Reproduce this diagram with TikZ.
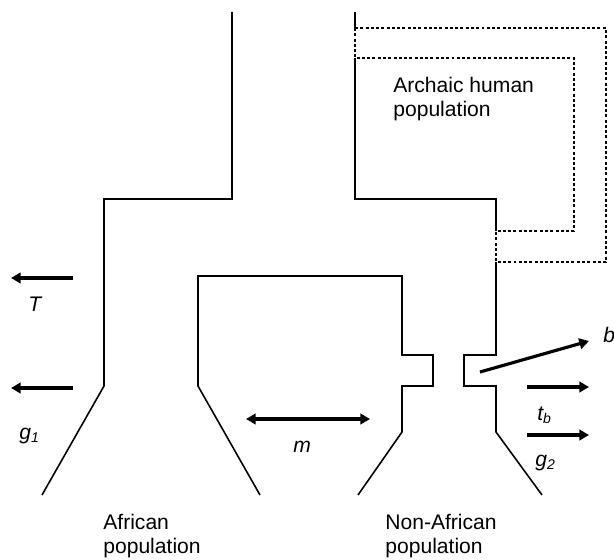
\documentclass[tikz,border=0pt]{standalone}
\usepackage{fontspec}
\setmainfont{Liberation Sans}
\usepackage{tikz}
\usetikzlibrary{arrows.meta}
\tikzset{
	popline/.style ={line width=0.9pt, line join=miter},
	archline/.style={line width=0.9pt, dash pattern=on 1.7pt off 1.3pt},
	flux/.style    ={-{Triangle[length=5.5pt, width=6pt]}, line width=1.8pt},
	parlab/.style  ={anchor=base west, inner sep=0pt, font=\fontsize{12}{14}\selectfont\itshape},
	poplab/.style  ={anchor=north west, inner sep=0pt, align=left, font=\fontsize{12}{13.6}\selectfont},
}
\begin{document}
\begin{tikzpicture}[x=0.02cm, y=-0.02cm]
	\useasboundingbox (0,0) rectangle (614,560);
	% African branch
	\draw[popline] (232,12) -- (232,199) -- (104,199) -- (104,386) -- (42,495);
	\draw[popline] (260,495) -- (198,386) -- (198,276) -- (402,276) -- (402,355) -- (433,355) -- (433,386) -- (402,386) -- (402,432) -- (358,495);
	% archaic / non-African branch
	\draw[popline] (355,12) -- (355,28);
	\draw[popline] (355,58) -- (355,199) -- (496,199) -- (496,231);
	\draw[popline] (496,262) -- (496,355) -- (464,355) -- (464,386) -- (496,386) -- (496,432) -- (542,495);
	\draw[archline] (355,28) -- (606,28) -- (606,262) -- (496,262) -- (496,231);
	\draw[archline] (355,28) -- (355,58) -- (574,58) -- (574,231) -- (496,231);
	% parameters
	\draw[flux] (73,278) -- (11,278);
	\draw[flux] (73,388) -- (11,388);
	\draw[flux, {Triangle[length=5.5pt, width=6pt]}-{Triangle[length=5.5pt, width=6pt]}] (246,419) -- (370,419);
	\draw[flux] (527,387) -- (589,387);
	\draw[flux] (527,435) -- (589,435);
	\draw[flux] (480,372) -- (589,341);
	\node[parlab] (T)  at (28,311)  {T};
	\node[parlab] (g1) at (19,439)  {g\textsubscript{1}};
	\node[parlab] (m)  at (293,452) {m};
	\node[parlab] (tb) at (537,420) {t\textsubscript{b}};
	\node[parlab] (g2) at (535,466) {g\textsubscript{2}};
	\node[parlab] (b)  at (603,342) {b};
	% populations
	\node[poplab] (arch) at (393,77)  {Archaic human\\population};
	\node[poplab] (afr)  at (103,514) {African\\population};
	\node[poplab] (nafr) at (385,514) {Non-African\\population};
\end{tikzpicture}
\end{document}
